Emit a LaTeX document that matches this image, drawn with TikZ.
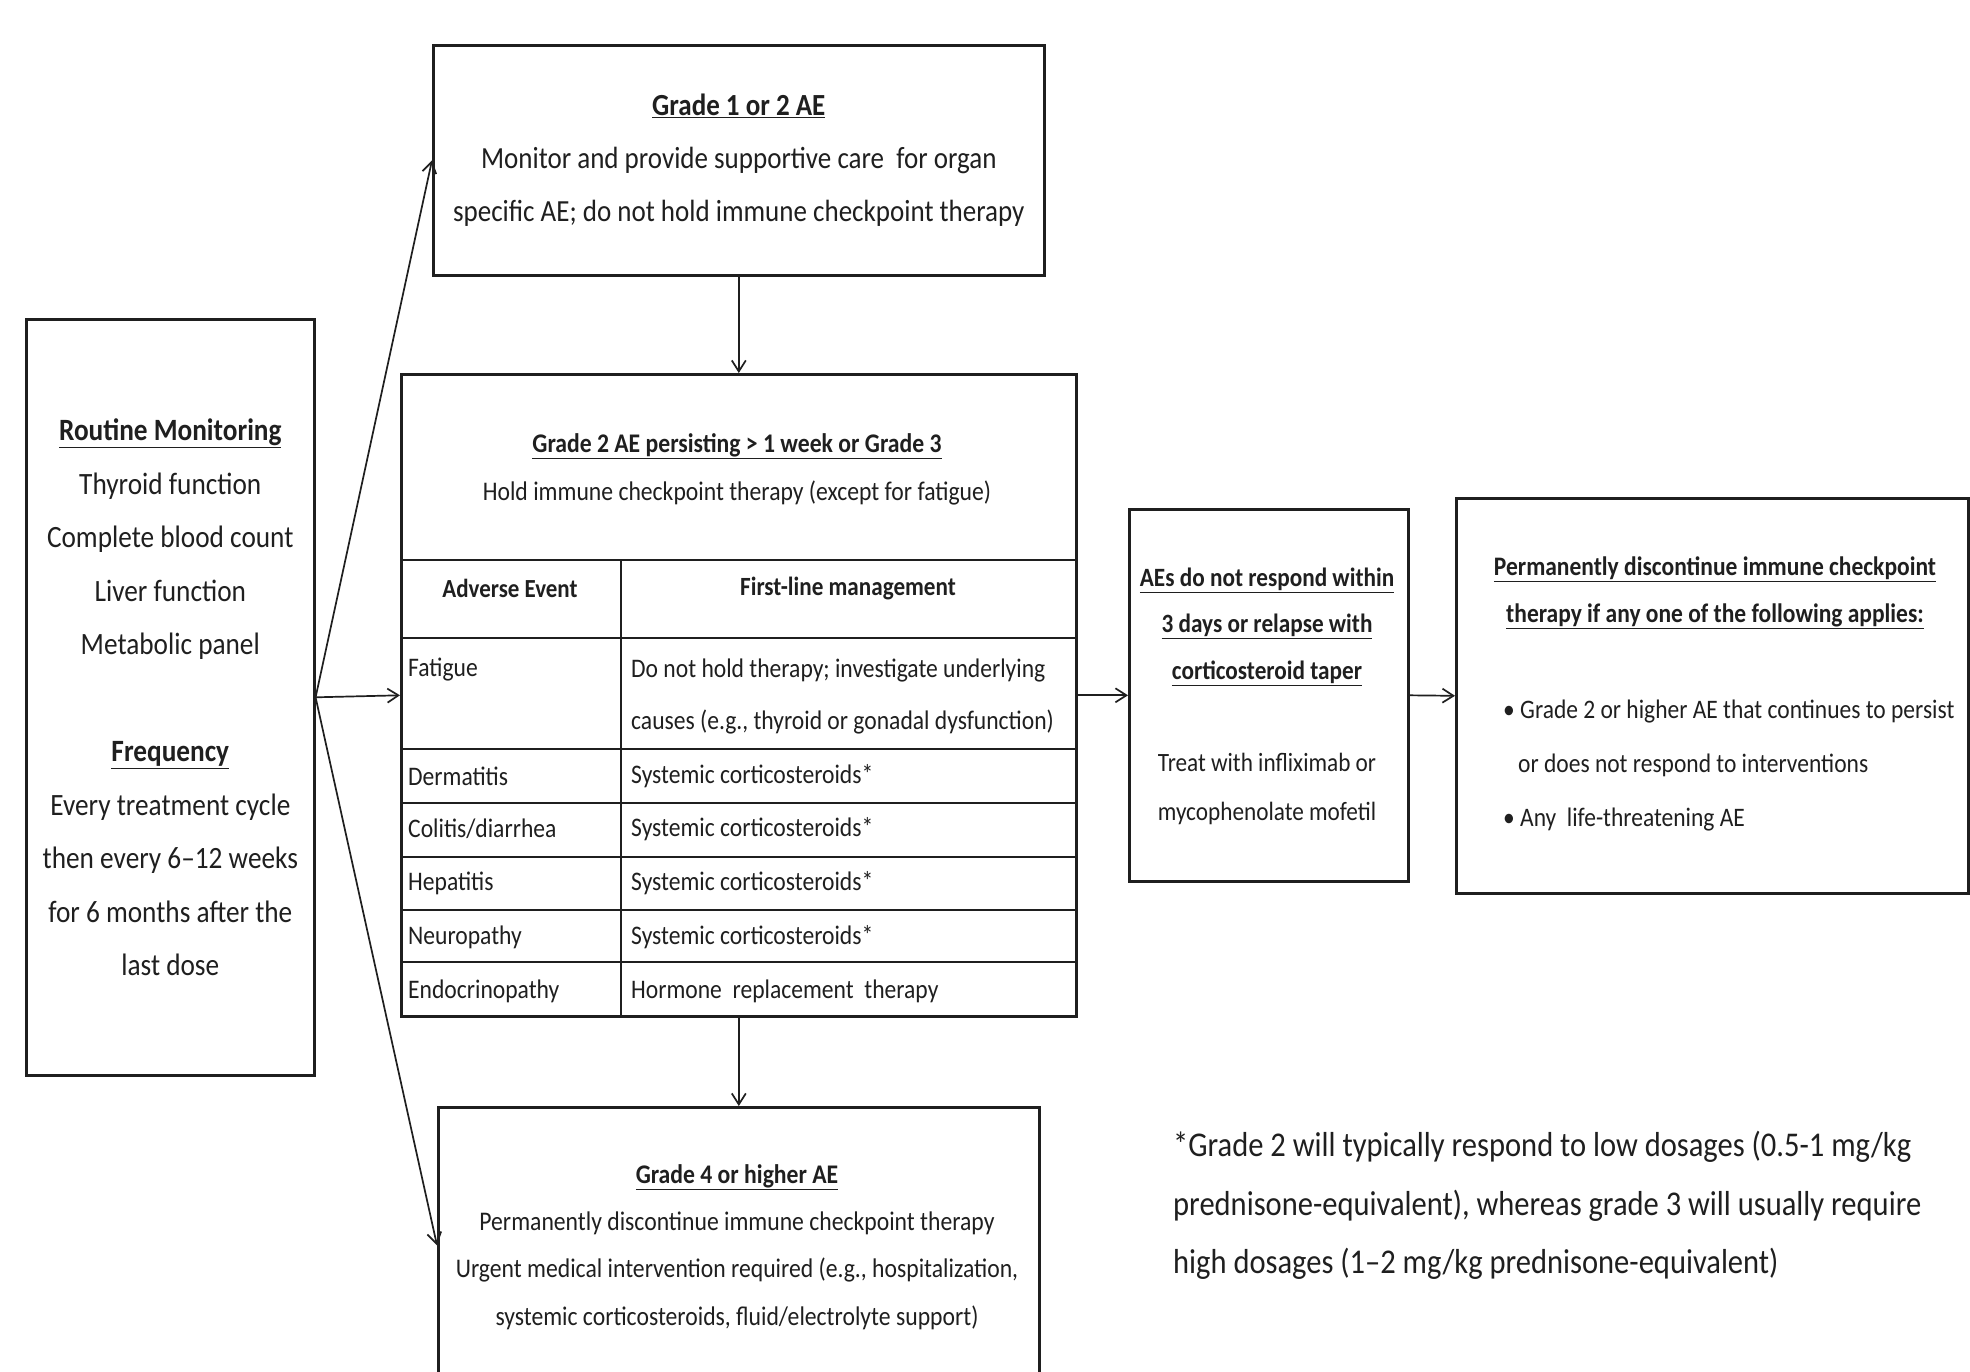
\documentclass[tikz,border=0pt]{standalone}
\usepackage{fontspec}
\setmainfont{Carlito}[FakeStretch=0.88]
\usetikzlibrary{arrows.meta}
\definecolor{ink}{HTML}{1F1F1F}
\tikzset{
  box/.style={draw=ink, line width=2.6pt, fill=white, inner sep=0pt, anchor=north west},
  conn/.style={draw=ink, line width=1.7pt, -{Straight Barb[length=11pt,width=14pt,line width=1.7pt]}},
  txt/.style={text=ink, inner sep=0pt, align=center},
  rowtxt/.style={text=ink, inner sep=0pt, anchor=west, font=\fontsize{26.8}{30}\selectfont},
  grid/.style={draw=ink, line width=2.4pt},
}
\begin{document}
\begin{tikzpicture}[x=1pt,y=-1pt]
\useasboundingbox[fill=white] (0,0) rectangle (1970,1371);

% boxes
\node[box, minimum width=288pt, minimum height=756pt] (lb) at (25,318) {};
\node[box, minimum width=611pt, minimum height=230pt] (g1) at (432,44) {};
\node[box, minimum width=675pt, minimum height=642pt] (tbl) at (400,373) {};
\node[box, minimum width=279pt, minimum height=372pt] (aes) at (1128,508) {};
\node[box, minimum width=512pt, minimum height=395pt] (perm) at (1455,497) {};
\node[box, minimum width=601pt, minimum height=276pt] (g4) at (437,1106) {};

% table grid
\foreach \yy in {560,638,749,803,857,910,962}
  \draw[grid] (400,\yy) -- (1075,\yy);
\draw[grid] (621,560) -- (621,1015);

% left box text
\node[txt, font=\fontsize{31.0}{53.5}\selectfont] (lbt) at (lb.center)
  {\underline{\textbf{Routine Monitoring}}\\Thyroid function\\Complete blood count\\Liver function\\Metabolic panel\\[53.5pt]
   \underline{\textbf{Frequency}}\\Every treatment cycle\\then every 6–12 weeks\\for 6 months after the\\last dose};

% grade 1 text
\node[txt, font=\fontsize{30.7}{53}\selectfont] (g1t) at (g1.center)
  {\underline{\textbf{Grade 1 or 2 AE}}\\Monitor and provide supportive care\ \ for organ\\specific AE; do not hold immune checkpoint therapy};

% table header
\node[txt, font=\fontsize{26.9}{48}\selectfont] (tht) at (737,469)
  {\underline{\textbf{Grade 2 AE persisting > 1 week or Grade 3}}\\Hold immune checkpoint therapy (except for fatigue)};
\node[txt, font=\bfseries\fontsize{26.1}{30}\selectfont] (c1) at (510,588) {Adverse Event};
\node[txt, font=\bfseries\fontsize{26.3}{30}\selectfont] (c2) at (848,588) {First-line management};

% rows
\node[rowtxt] (r1a) at (408,670) {Fatigue};
\node[rowtxt] (r1b) at (631,670) {Do not hold therapy; investigate underlying};
\node[rowtxt] (r1c) at (631,722) {causes (e.g., thyroid or gonadal dysfunction)};
\node[rowtxt] (r2a) at (408,776) {Dermatitis};
\node[rowtxt] (r2b) at (631,776) {Systemic corticosteroids*};
\node[rowtxt] (r3a) at (408,829) {Colitis/diarrhea};
\node[rowtxt] (r3b) at (631,829) {Systemic corticosteroids*};
\node[rowtxt] (r4a) at (408,883) {Hepatitis};
\node[rowtxt] (r4b) at (631,883) {Systemic corticosteroids*};
\node[rowtxt] (r5a) at (408,937) {Neuropathy};
\node[rowtxt] (r5b) at (631,937) {Systemic corticosteroids*};
\node[rowtxt] (r6a) at (408,991) {Endocrinopathy};
\node[rowtxt] (r6b) at (631,991) {Hormone\ \ replacement\ \ therapy};

% AEs box text
\node[txt, font=\fontsize{26.4}{46.5}\selectfont] (aest) at (1267,626.5)
  {\underline{\textbf{AEs do not respond within}}\\\underline{\textbf{3 days or relapse with}}\\\underline{\textbf{corticosteroid taper}}};
\node[txt, font=\fontsize{26.4}{49}\selectfont] (aest2) at (1267,788.5)
  {Treat with infliximab or\\mycophenolate\ mofetil};

% permanent box text
\node[txt, font=\bfseries\fontsize{26.7}{47}\selectfont] (permt) at (1715,592.5)
  {\underline{Permanently discontinue immune checkpoint}\\\underline{therapy if any one of the following applies:}};
\node[txt, anchor=west, font=\fontsize{26.7}{30}\selectfont] (pb1) at (1503,712) {• Grade 2 or higher AE that continues to persist};
\node[txt, anchor=west, font=\fontsize{26.7}{30}\selectfont] (pb2) at (1518,765) {or does not respond to interventions};
\node[txt, anchor=west, font=\fontsize{26.7}{30}\selectfont] (pb3) at (1503,820) {• Any\ \ life-threatening AE};

% grade 4 text
\node[txt, font=\fontsize{26.9}{47.3}\selectfont] (g4t) at (737,1247)
  {\underline{\textbf{Grade 4 or higher AE}}\\Permanently discontinue immune checkpoint therapy\\Urgent medical intervention required (e.g., hospitalization,\\systemic corticosteroids, fluid/electrolyte support)};

% footnote
\node[text=ink, inner sep=0pt, align=left, anchor=west, font=\fontsize{34.7}{58.5}\selectfont] (fn) at (1173,1205.5)
  {*Grade 2 will typically respond to low dosages (0.5-1 mg/kg\\prednisone-equivalent), whereas grade 3 will usually require\\high dosages (1–2 mg/kg prednisone-equivalent)};

% connectors
\draw[conn] (lb.east) -- (g1.west);
\draw[conn] (lb.east) -- (tbl.west);
\draw[conn] (lb.east) -- (g4.west);
\draw[conn] (g1.south) -- (tbl.north);
\draw[conn] (tbl.south) -- (g4.north);
\draw[conn] (tbl.east) -- (aes.west);
\draw[conn] (aes.east) -- (perm.west);
\end{tikzpicture}
\end{document}
